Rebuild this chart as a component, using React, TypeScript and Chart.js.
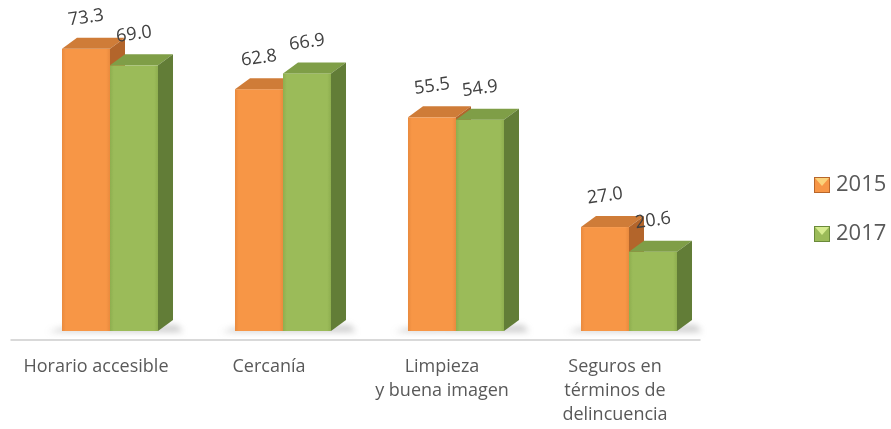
import React, { useEffect, useRef } from 'react';
import { Chart, registerables } from 'chart.js';

Chart.register(...registerables);

const categories = [
  ['Horario accesible'],
  ['Cercanía'],
  ['Limpieza', 'y buena imagen'],
  ['Seguros en', 'términos de', 'delincuencia'],
];
const seriesNames = ['2015', '2017'];
const values2015 = [73.3, 62.8, 55.5, 27.0];
const values2017 = [69.0, 66.9, 54.9, 20.6];

const FONT = "'Open Sans', 'Noto Sans', sans-serif";
const DX = 15;
const DY = 11;
const faces = [
  { front: '#F79646', edge: '#E98A3E', top: '#CF7C38', side: '#B3652B', light: '#FBD27A', border: '#B8662A' },
  { front: '#9BBB59', edge: '#8EAE4F', top: '#7F9E47', side: '#627D37', light: '#D6EC90', border: '#6A8A3A' },
];

const bar3d = {
  id: 'bar3d',
  beforeDatasetsDraw(chart: any) {
    const ctx = chart.ctx;
    const m0 = chart.getDatasetMeta(0);
    const m1 = chart.getDatasetMeta(1);
    const area = chart.chartArea;
    ctx.save();
    ctx.strokeStyle = '#D9D9D9';
    ctx.lineWidth = 2;
    ctx.beginPath();
    ctx.moveTo(area.left - 13, area.bottom + 9);
    ctx.lineTo(area.right - 15, area.bottom + 9);
    ctx.stroke();
    ctx.restore();
    ctx.save();
    ctx.filter = 'blur(3px)';
    ctx.fillStyle = 'rgba(110,110,110,0.35)';
    m0.data.forEach((el: any, i: number) => {
      const a = el.getProps(['x', 'width', 'base'], true);
      const b = m1.data[i].getProps(['x', 'width'], true);
      const l = a.x - a.width / 2 - 14;
      const r = b.x + b.width / 2 + DX + 10;
      ctx.beginPath();
      ctx.moveTo(l, a.base + 1);
      ctx.lineTo(r, a.base + 1);
      ctx.lineTo(r - 6, a.base - 6);
      ctx.lineTo(l + 14, a.base - 3);
      ctx.closePath();
      ctx.fill();
    });
    ctx.restore();
  },
  afterDatasetsDraw(chart: any) {
    const ctx = chart.ctx;
    ctx.save();
    chart.data.datasets.forEach((ds: any, di: number) => {
      const f = faces[di];
      chart.getDatasetMeta(di).data.forEach((el: any) => {
        const { x, y, base, width } = el.getProps(['x', 'y', 'base', 'width'], true);
        const l = x - width / 2;
        const r = x + width / 2;
        // front with slight bevel
        const g = ctx.createLinearGradient(l, 0, r, 0);
        g.addColorStop(0, f.edge);
        g.addColorStop(0.08, f.front);
        g.addColorStop(0.92, f.front);
        g.addColorStop(1, f.edge);
        ctx.fillStyle = g;
        ctx.fillRect(l, y, width, base - y);
        ctx.fillStyle = f.top;
        ctx.beginPath();
        ctx.moveTo(l, y);
        ctx.lineTo(l + DX, y - DY);
        ctx.lineTo(r + DX, y - DY);
        ctx.lineTo(r, y);
        ctx.closePath();
        ctx.fill();
        ctx.fillStyle = f.side;
        ctx.beginPath();
        ctx.moveTo(r, y);
        ctx.lineTo(r + DX, y - DY);
        ctx.lineTo(r + DX, base - DY);
        ctx.lineTo(r, base);
        ctx.closePath();
        ctx.fill();
      });
    });
    ctx.font = `18px ${FONT}`;
    ctx.fillStyle = '#404040';
    ctx.textAlign = 'center';
    ctx.textBaseline = 'middle';
    chart.data.datasets.forEach((ds: any, di: number) => {
      chart.getDatasetMeta(di).data.forEach((el: any, i: number) => {
        const { x, y } = el.getProps(['x', 'y'], true);
        ctx.save();
        ctx.translate(x, y - 31);
        ctx.rotate((-8 * Math.PI) / 180);
        ctx.fillText(Number(ds.data[i]).toFixed(1), 0, 0);
        ctx.restore();
      });
    });
    ctx.restore();
  },
  afterDraw(chart: any) {
    const ctx = chart.ctx;
    const bx = 814;
    const ys = [185, 234];
    ctx.save();
    chart.data.datasets.forEach((ds: any, di: number) => {
      const f = faces[di];
      const cy = ys[di];
      const s = 16;
      const top = cy - s / 2;
      ctx.fillStyle = f.front;
      ctx.fillRect(bx, top, s, s);
      ctx.fillStyle = f.light;
      ctx.beginPath();
      ctx.moveTo(bx + 1, top + 1);
      ctx.lineTo(bx + s - 1, top + 1);
      ctx.lineTo(bx + s / 2, top + s / 2 + 1);
      ctx.closePath();
      ctx.fill();
      ctx.strokeStyle = f.border;
      ctx.lineWidth = 1;
      ctx.strokeRect(bx + 0.5, top + 0.5, s - 1, s - 1);
      ctx.fillStyle = '#595959';
      ctx.font = `22px ${FONT}`;
      ctx.textAlign = 'left';
      ctx.textBaseline = 'middle';
      ctx.fillText(ds.label, bx + 22, cy);
    });
    ctx.restore();
  },
};

export default function App() {
  const ref = useRef<HTMLCanvasElement | null>(null);
  useEffect(() => {
    if (!ref.current) return;
    const chart = new Chart(ref.current, {
      type: 'bar',
      data: {
        labels: categories as any,
        datasets: [
          { label: seriesNames[0], data: values2015, backgroundColor: 'rgba(0,0,0,0)', borderWidth: 0 },
          { label: seriesNames[1], data: values2017, backgroundColor: 'rgba(0,0,0,0)', borderWidth: 0 },
        ],
      },
      options: {
        animation: false,
        responsive: false,
        devicePixelRatio: 1,
        layout: { padding: { left: 23.5, right: 175.5, top: 23, bottom: 0 } },
        datasets: { bar: { categoryPercentage: 0.555, barPercentage: 1 } },
        plugins: { legend: { display: false }, tooltip: { enabled: false } },
        scales: {
          x: {
            grid: { display: false, drawTicks: false },
            border: { display: false },
            ticks: {
              font: { family: FONT, size: 18, lineHeight: 1.333 },
              color: '#595959',
              padding: 24,
              labelOffset: -14,
              maxRotation: 0,
              minRotation: 0,
              autoSkip: false,
            },
            afterFit: (s: any) => {
              s.height = 98;
            },
          },
          y: { display: false, min: 0, max: 80 },
        },
      },
      plugins: [bar3d],
    });
    return () => chart.destroy();
  }, []);
  return (
    <div style={{ position: 'absolute', left: 0, top: 0, width: 891, height: 429, background: '#fff' }}>
      <canvas ref={ref} width={891} height={429} />
    </div>
  );
}
